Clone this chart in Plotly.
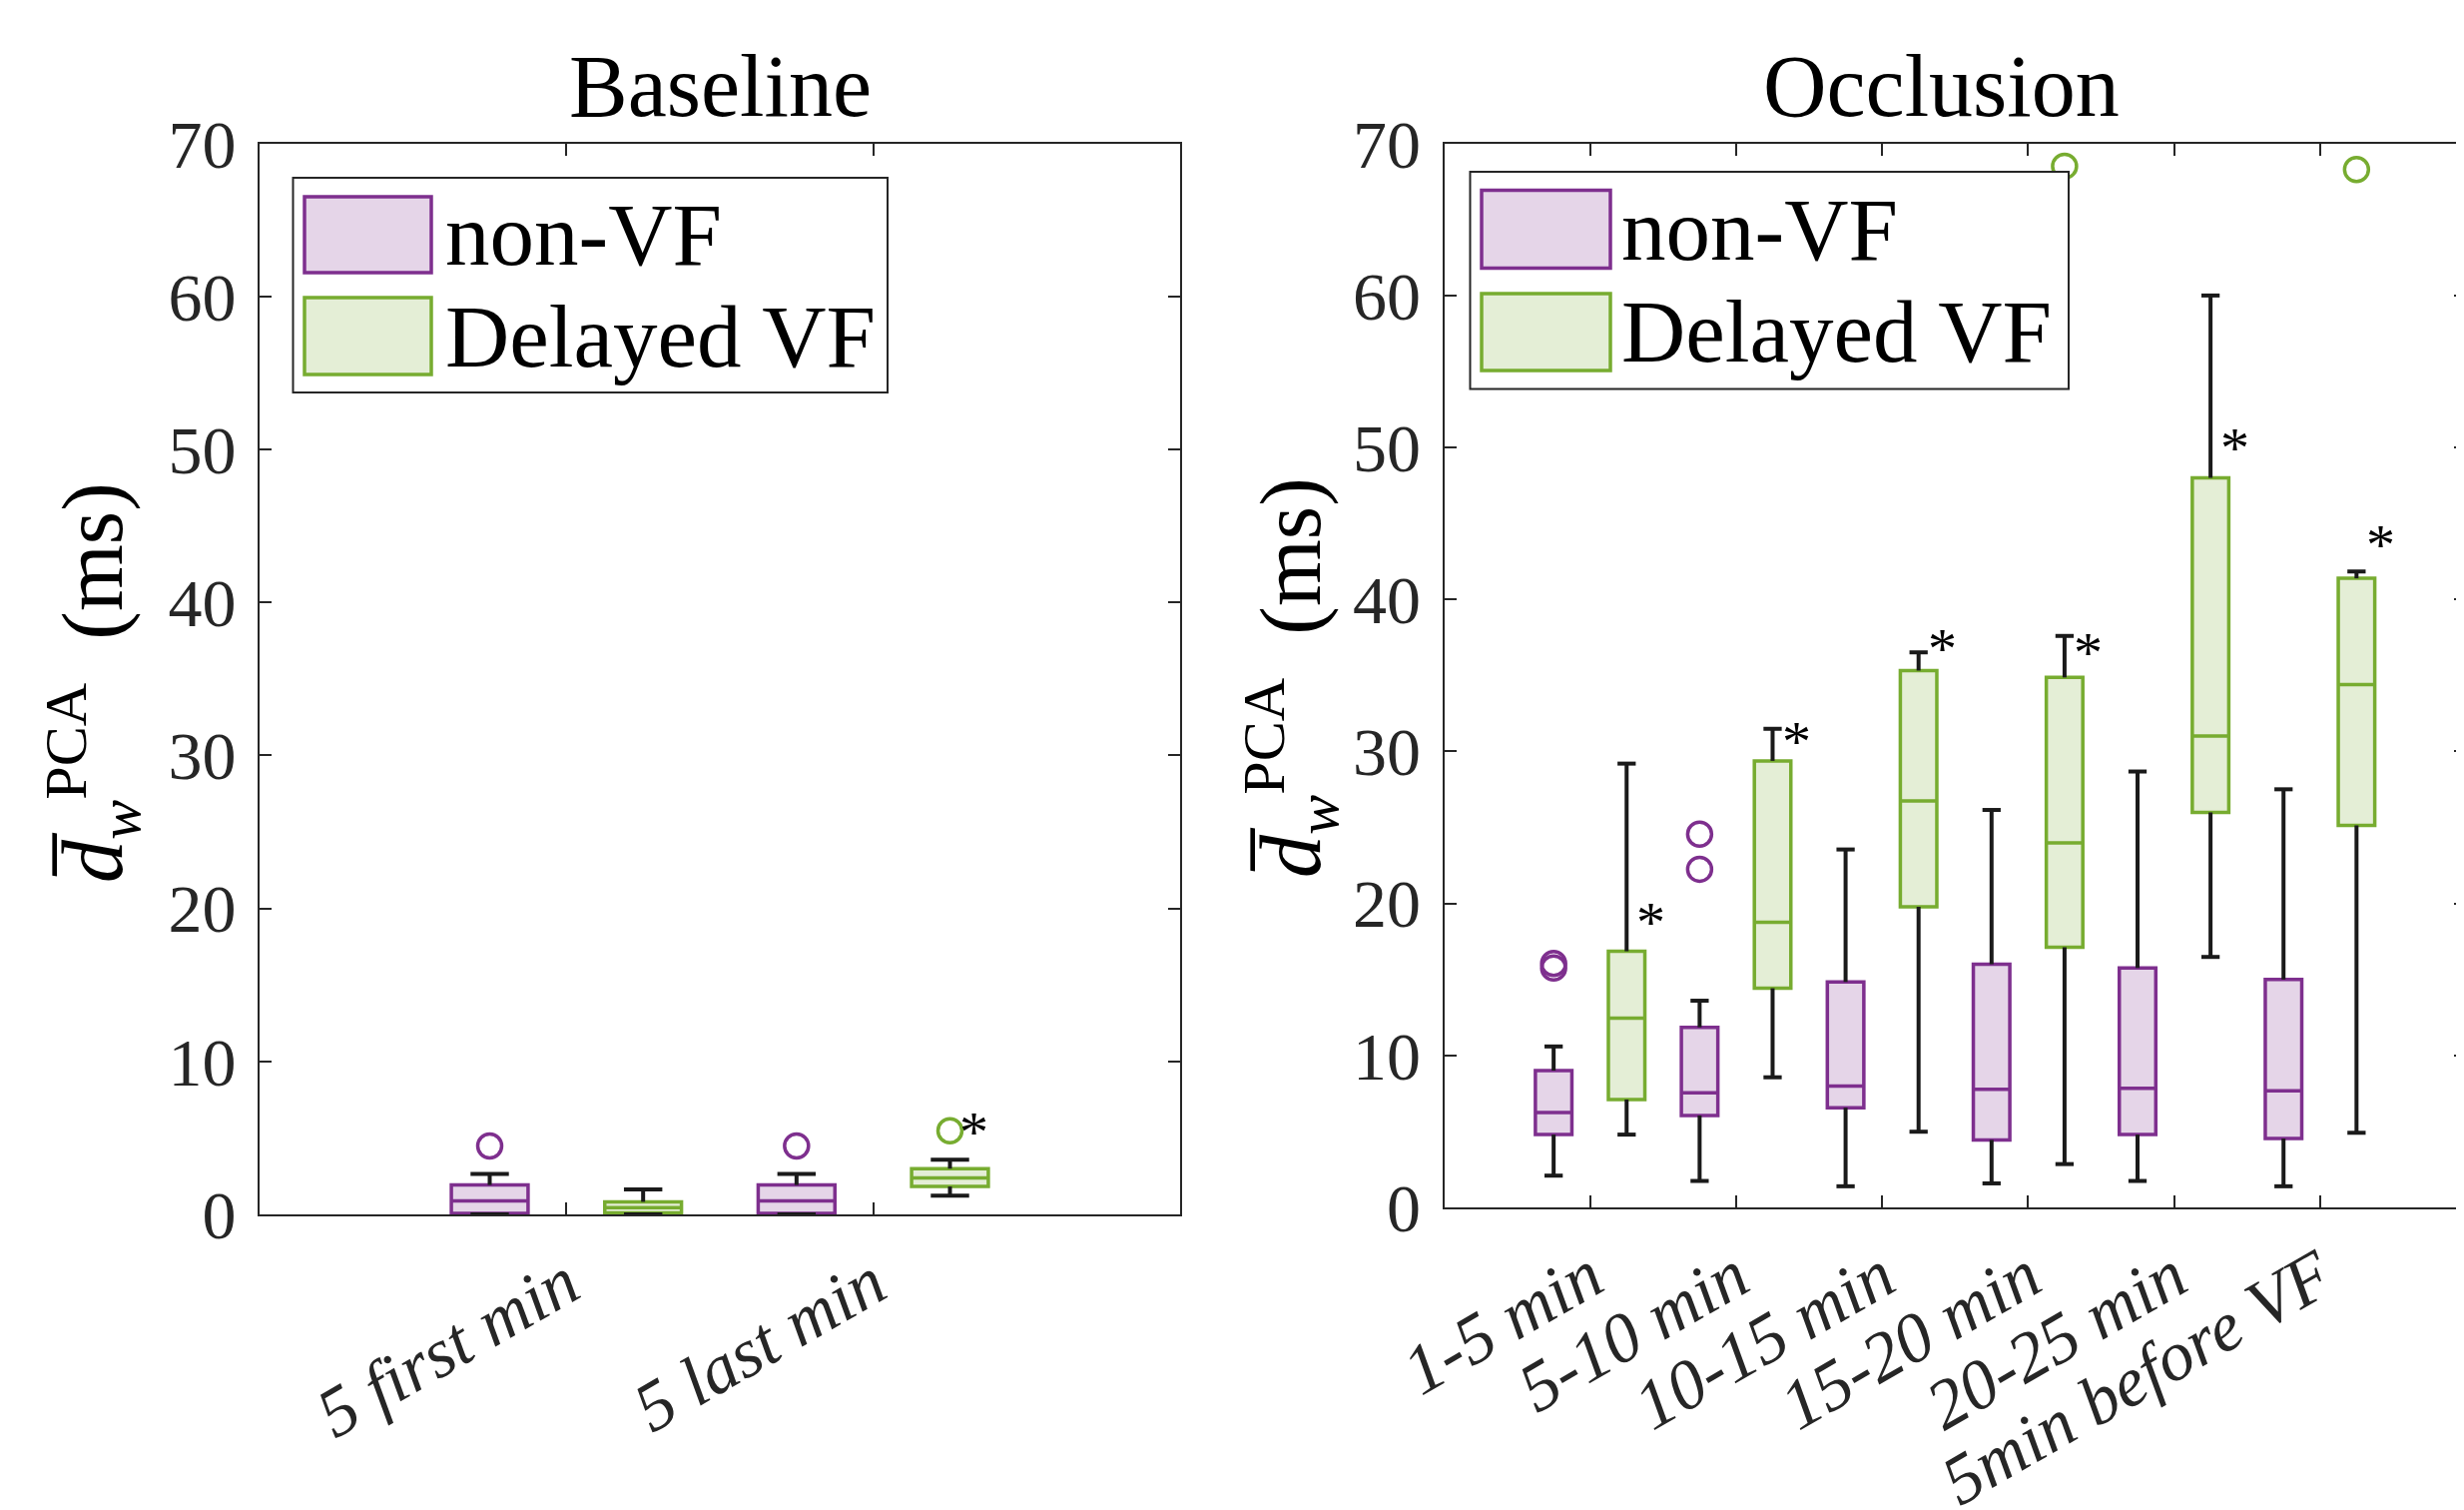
import numpy as np
import plotly.graph_objects as go

W, H = 2468, 1512
OFF = 8  # page body margin offset

# ---------------- data ----------------
base_cats = ["5 first min", "5 last min"]
occ_cats = ["1-5 min", "5-10 min", "10-15 min", "15-20 min", "20-25 min", "5min before VF"]

# Baseline, non-VF
base_nonvf_low = [0.0, 0.0]
base_nonvf_q1 = [0.06, 0.06]
base_nonvf_med = [0.88, 0.88]
base_nonvf_q3 = [1.92, 1.92]
base_nonvf_high = [2.64, 2.64]
base_nonvf_out = [[4.47], [4.47]]

# Baseline, Delayed VF
base_vf_low = [0.0, 1.23]
base_vf_q1 = [0.1, 1.82]
base_vf_med = [0.44, 2.39]
base_vf_q3 = [0.82, 2.99]
base_vf_high = [1.64, 3.58]
base_vf_out = [[], [5.47]]
base_star = [None, 5.9]

# Occlusion, non-VF
occ_nonvf_low = [2.09, 1.74, 1.39, 1.58, 1.74, 1.39]
occ_nonvf_q1 = [4.79, 6.05, 6.56, 4.44, 4.79, 4.53]
occ_nonvf_med = [6.24, 7.54, 7.99, 7.77, 7.83, 7.67]
occ_nonvf_q3 = [9.0, 11.85, 14.83, 16.0, 15.75, 14.99]
occ_nonvf_high = [10.59, 13.6, 23.55, 26.15, 28.68, 27.51]
occ_nonvf_out = [[16.05, 15.75], [24.56, 22.25], [], [], [], []]

# Occlusion, Delayed VF
occ_vf_low = [4.79, 8.56, 4.98, 2.85, 16.48, 4.91]
occ_vf_q1 = [7.1, 14.42, 19.78, 17.12, 25.99, 25.13]
occ_vf_med = [12.46, 18.76, 26.75, 23.99, 31.01, 34.4]
occ_vf_q3 = [16.86, 29.38, 35.32, 34.87, 48.0, 41.39]
occ_vf_high = [29.2, 31.49, 36.52, 37.6, 60.0, 41.84]
occ_vf_out = [[], [], [], [68.51], [], [68.29]]
occ_star = [19.3, 31.2, 37.3, 37.0, 50.5, 44.1]

series_names = ["non-VF", "Delayed VF"]
y_ticks = [0, 10, 20, 30, 40, 50, 60, 70]

# ---------------- style ----------------
PURPLE = "#7E2F8E"
GREEN = "#77AC30"
PURPLE_FILL = "#E5D5E8"
GREEN_FILL = "#E4EED6"
AX = "#262626"
FONT = "Liberation Serif"

BOX_W = 0.25
CAP = BOX_W / 4


def fx(px):
    return min(1.0, (px - OFF) / W)


def fy(py):
    return 1 - (py - OFF) / H


fig = go.Figure()


def add_group(xa, ya, pos, low, q1, med, q3, high, outs, color, fill):
    # whiskers
    wx, wy = [], []
    for p, lo, a, b, hi in zip(pos, low, q1, q3, high):
        wx += [p, p, None, p - CAP, p + CAP, None, p, p, None, p - CAP, p + CAP, None]
        wy += [b, hi, None, hi, hi, None, a, lo, None, lo, lo, None]
    fig.add_trace(go.Scatter(x=wx, y=wy, mode="lines", xaxis=xa, yaxis=ya,
                             line=dict(color="#1a1a1a", width=4),
                             showlegend=False, hoverinfo="skip"))
    # boxes
    fig.add_trace(go.Box(x=list(pos), q1=q1, median=med, q3=q3,
                         lowerfence=q1, upperfence=q3, width=BOX_W,
                         whiskerwidth=0, fillcolor=fill,
                         line=dict(color=color, width=3.5),
                         xaxis=xa, yaxis=ya, showlegend=False, hoverinfo="skip"))
    # outliers
    ox, oy = [], []
    for p, o in zip(pos, outs):
        for v in o:
            ox.append(p)
            oy.append(v)
    if ox:
        fig.add_trace(go.Scatter(x=ox, y=oy, mode="markers", xaxis=xa, yaxis=ya,
                                 marker=dict(symbol="circle-open", size=24,
                                             color=color, line=dict(width=3.5, color=color)),
                                 showlegend=False, hoverinfo="skip", cliponaxis=False))


def add_panel(xa, ya, cats, nv, vf, stars):
    idx = np.arange(1, len(cats) + 1)
    add_group(xa, ya, idx - 0.25, *nv, PURPLE, PURPLE_FILL)
    add_group(xa, ya, idx + 0.25, *vf, GREEN, GREEN_FILL)
    for p, s in zip(idx + 0.25, stars):
        if s is not None:
            fig.add_annotation(x=p, y=s, xref=xa, yref=ya, text="*", showarrow=False,
                               xshift=24, yshift=-8, font=dict(family=FONT, size=58, color="#000"))


add_panel("x", "y", base_cats,
          (base_nonvf_low, base_nonvf_q1, base_nonvf_med, base_nonvf_q3, base_nonvf_high, base_nonvf_out),
          (base_vf_low, base_vf_q1, base_vf_med, base_vf_q3, base_vf_high, base_vf_out),
          base_star)
add_panel("x2", "y2", occ_cats,
          (occ_nonvf_low, occ_nonvf_q1, occ_nonvf_med, occ_nonvf_q3, occ_nonvf_high, occ_nonvf_out),
          (occ_vf_low, occ_vf_q1, occ_vf_med, occ_vf_q3, occ_vf_high, occ_vf_out),
          occ_star)

xcommon = dict(showgrid=False, zeroline=False, showline=True, linecolor=AX, linewidth=2,
               mirror="ticks", ticks="inside", ticklen=12, tickwidth=2, tickcolor=AX,
               tickangle=-30, automargin=False, ticklabelstandoff=0,
               tickfont=dict(family=FONT, size=70, color=AX))
ycommon = dict(showgrid=False, zeroline=False, showline=True, linecolor=AX, linewidth=2,
               mirror="ticks", ticks="inside", ticklen=12, tickwidth=2, tickcolor=AX,
               range=[0, 70], tickvals=y_ticks, ticklabelstandoff=8, automargin=False,
               tickfont=dict(family=FONT, size=68, color=AX))

fig.update_layout(
    width=W, height=H, autosize=False,
    margin=dict(l=0, r=0, t=0, b=0, autoexpand=False),
    paper_bgcolor="white", plot_bgcolor="white",
    xaxis=dict(domain=[fx(260), fx(1182)], range=[0, 3],
               tickvals=list(range(1, len(base_cats) + 1)),
               ticktext=[f"<i>{c}</i>" for c in base_cats], anchor="y", **xcommon),
    yaxis=dict(domain=[fy(1216), fy(143.7)], anchor="x", **ycommon),
    xaxis2=dict(domain=[fx(1446.5), fx(2470)], range=[0, 7],
                tickvals=list(range(1, len(occ_cats) + 1)),
                ticktext=[f"<i>{c}</i>" for c in occ_cats], anchor="y2", **xcommon),
    yaxis2=dict(domain=[fy(1209), fy(143.7)], anchor="x2", **ycommon),
    showlegend=False,
)

# titles
for cx, txt in [(721, "Baseline"), (1945, "Occlusion")]:
    fig.add_annotation(x=fx(cx), y=fy(137), xref="paper", yref="paper", text=txt,
                       showarrow=False, xanchor="center", yanchor="bottom",
                       font=dict(family=FONT, size=88, color="#000"))

# y-axis titles
ytitle = "<i>d\u0305</i><sub><i>w</i></sub><sup>PCA</sup>  (ms)"
for cx, cy in [(92, 683), (1292, 679)]:
    fig.add_annotation(x=fx(cx), y=fy(cy), xref="paper", yref="paper", text=ytitle,
                       showarrow=False, textangle=-90, xanchor="center", yanchor="middle",
                       font=dict(family=FONT, size=86, color="#000"))

# custom legends
legends = [
    dict(box=(293.5, 178, 889, 393), sw=[(305, 197, 432, 273), (305, 298, 432, 375)], tx=444),
    dict(box=(1472.5, 172, 2072, 389.6), sw=[(1484, 190.5, 1613, 268.6), (1484, 294, 1613, 371)], tx=1622),
]
for lg in legends:
    x0, y0, x1, y1 = lg["box"]
    fig.add_shape(type="rect", xref="paper", yref="paper", x0=fx(x0), x1=fx(x1), y0=fy(y1), y1=fy(y0),
                  line=dict(color=AX, width=2), fillcolor="white", layer="above")
    for (sx0, sy0, sx1, sy1), name, col, fill in zip(lg["sw"], series_names,
                                                     [PURPLE, GREEN], [PURPLE_FILL, GREEN_FILL]):
        fig.add_shape(type="rect", xref="paper", yref="paper", x0=fx(sx0), x1=fx(sx1),
                      y0=fy(sy1), y1=fy(sy0), line=dict(color=col, width=3.5),
                      fillcolor=fill, layer="above")
        fig.add_annotation(x=fx(lg["tx"]), y=fy((sy0 + sy1) / 2), xref="paper", yref="paper",
                           text=name, showarrow=False, xanchor="left", yanchor="middle",
                           font=dict(family=FONT, size=89, color="#000"))

fig.write_html("out.html")
